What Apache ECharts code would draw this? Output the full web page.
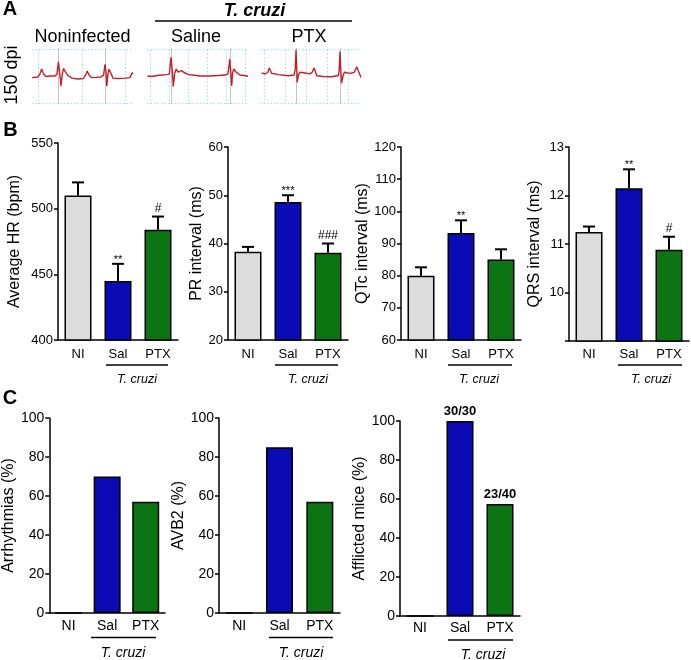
<!DOCTYPE html>
<html><head><meta charset="utf-8">
<script src="https://cdn.jsdelivr.net/npm/echarts@6/dist/echarts.min.js"></script>
<style>html,body{margin:0;padding:0;background:#fff}#c{width:691px;height:660px}</style>
</head><body><div id="c"></div>
<script>
// ---------- DATA ----------
const categories = ['NI', 'Sal', 'PTX'];
const groupColors = ['#dcdcdc', '#0b0bb5', '#0b7513'];

const hrMean = [510, 445, 484];
const hrSem = [10, 13, 10];
const hrSig = ['', '**', '#'];

const prMean = [38.3, 48.6, 38.1];
const prSem = [1.0, 1.4, 1.9];
const prSig = ['', '***', '###'];

const qtcMean = [80, 93.3, 85];
const qtcSem = [2.6, 3.9, 3.2];
const qtcSig = ['', '**', ''];

const qrsMean = [11.25, 12.15, 10.88];
const qrsSem = [0.11, 0.39, 0.27];
const qrsSig = ['', '**', '#'];

const arrhythmiasPct = [0, 70, 57];
const avb2Pct = [0, 85, 57];
const afflictedPct = [0, 100, 57.5];
const afflictedLabels = ['', '30/30', '23/40'];

const hrTicks = [400, 550, 50];
const prTicks = [20, 60, 10];
const qtcTicks = [60, 120, 10];
const qrsTicks = [9, 13, 1];
const pctTicks = [0, 100, 20];

// ECG traces: [time (ms), voltage (mV)]
const ecgNoninfected = [[0,-0.07],[15,-0.04],[20,0.09],[24,0.30],[29,0.09],[35,-0.02],[45,0],[57.5,0],[62.5,0.09],[66,0.61],[69,0.17],[72.5,-0.43],[75.7,0.09],[79,0.32],[82.5,0.21],[90,0.02],[100,-0.09],[115,-0.13],[127.5,-0.11],[134,0.04],[138,0.21],[142.5,0.04],[149,-0.07],[160,-0.06],[172.5,-0.04],[179,0.04],[182.5,0.5],[185,0.17],[187,-0.43],[190,0.09],[192.5,0.29],[196,0.17],[202.5,-0.09],[215,-0.11],[232.5,-0.09],[245,-0.07],[250,0.14],[252.5,0.09]];
const ecgSaline = [[1,0],[12.5,-0.02],[25,0.02],[37.5,0.04],[50,0.06],[56,0.09],[60,0.80],[63,0.26],[65.7,-0.45],[69,0.09],[73,0.30],[77.5,0.17],[82.5,0.19],[86.7,0.23],[92.5,0.15],[102.5,0.07],[112.5,0.04],[132.5,0],[157.5,0],[177.5,0.02],[195,0.04],[202.5,0.09],[207,0.72],[209,0.26],[211.7,-0.42],[214,0.13],[217,0.30],[222.5,0.17],[232.5,0.04],[242.5,0.02],[252.5,-0.01]];
const ecgPTX = [[4,0.13],[12.5,0.09],[19,0.15],[23,0.34],[29,0.12],[45,0.06],[71,0.01],[85,0.04],[88,0.26],[90,1.11],[92,0.26],[93,-0.27],[96,0.04],[100,0.16],[112.5,0.13],[125,0.09],[131,0.17],[135,0.34],[138,0.21],[142,0.01],[157.5,-0.02],[179,-0.03],[196,0.02],[198,0.26],[200,1.06],[202,0.26],[204,-0.31],[207.5,0],[211,0.16],[220,0.13],[229,0.12],[236,0.17],[242,0.40],[246,0.21],[252.5,-0.06]];
// ECG paper grid times (ms) and R-peak cursor times (ms)
const gridTimesNoninfected = [15, 125, 232.5];
const rTimesNoninfected = [66, 182.5];
const gridTimesSaline = [7.5, 55, 102.5, 150, 197.5, 245];
const rTimesSaline = [60, 207];
const gridTimesPTX = [10, 62.5, 115, 167.5, 220];
const rTimesPTX = [90, 200];

// ---------- CHART ----------
const FONT = '"Liberation Sans", Arial, sans-serif';
const BLACK = '#000';
const grids = [], xAxes = [], yAxes = [], series = [], graphic = [];

function ecgPanel(left, trace, gridTimes, rTimes) {
  const gi = grids.length;
  grids.push({left: left, top: 48, width: 101, height: 56});
  xAxes.push({type: 'value', gridIndex: gi, min: 0, max: 252.5, show: false});
  yAxes.push({type: 'value', gridIndex: gi, min: -1.2, max: 1.2, show: false});
  const cyan = {color: '#93e2f0', type: [1.5, 2], width: 1};
  const grey = {color: '#c4c4c4', type: 'solid', width: 1};
  const ml = [];
  [-1.15, 1.15].forEach(v => ml.push({yAxis: v, lineStyle: cyan}));
  gridTimes.forEach(t => ml.push({xAxis: t, lineStyle: cyan}));
  rTimes.forEach(t => ml.push({xAxis: t, lineStyle: grey}));
  series.push({
    type: 'line', xAxisIndex: gi, yAxisIndex: gi, data: trace,
    showSymbol: false, symbol: 'none', silent: true, animation: false, z: 3,
    lineStyle: {color: '#c81e28', width: 1.4},
    markLine: {silent: true, symbol: ['none', 'none'], label: {show: false}, animation: false, z: 1, data: ml}
  });
}

function barPanel(o) {
  const gi = grids.length;
  const fs = o.fontSize || 13;
  grids.push({left: o.left, top: o.top, width: o.width, height: o.height});
  xAxes.push({
    type: 'category', gridIndex: gi, data: categories,
    axisLine: {show: true, onZero: false, lineStyle: {color: BLACK, width: 1.5}},
    axisTick: {show: false},
    axisLabel: {color: BLACK, fontSize: fs, fontFamily: FONT, margin: o.xMargin, interval: 0}
  });
  yAxes.push({
    type: 'value', gridIndex: gi, min: o.ticks[0], max: o.ticks[1], interval: o.ticks[2],
    name: o.name, nameLocation: 'middle', nameGap: o.nameGap, nameRotate: 90,
    nameTextStyle: {color: BLACK, fontSize: 16, fontFamily: FONT},
    axisLine: {show: true, lineStyle: {color: BLACK, width: 1.5}},
    axisTick: {show: true, length: 4, lineStyle: {color: BLACK, width: 1.5}},
    axisLabel: {color: BLACK, fontSize: fs, fontFamily: FONT, margin: 5, formatter: o.fmt || (v => String(v))},
    splitLine: {show: false}
  });
  const bar = {
    type: 'bar', xAxisIndex: gi, yAxisIndex: gi, barWidth: 27, animation: false,
    data: o.values.map((v, i) => ({value: v, itemStyle: {color: groupColors[i]}})),
    itemStyle: {borderColor: BLACK, borderWidth: 1.5}
  };
  if (o.barLabels) {
    bar.label = {show: true, position: 'top', distance: 3, color: BLACK, fontSize: 13, fontWeight: 'bold',
      fontFamily: FONT, formatter: p => o.barLabels[p.dataIndex]};
  }
  series.push(bar);
  if (o.sem) {
    const sig = o.sig;
    series.push({
      type: 'custom', xAxisIndex: gi, yAxisIndex: gi, animation: false, clip: false, z: 5,
      encode: {x: 0, y: [1, 2]},
      data: o.values.map((v, i) => [i, v, v + o.sem[i]]),
      renderItem: (params, api) => {
        const i = api.value(0), m = api.value(1), t = api.value(2);
        const p0 = api.coord([i, m]), p1 = api.coord([i, t]);
        const s = sig[params.dataIndex];
        const ch = [
          {type: 'line', shape: {x1: p0[0], y1: p0[1], x2: p1[0], y2: p1[1]}, style: {stroke: BLACK, lineWidth: 2}},
          {type: 'line', shape: {x1: p1[0] - 6, y1: p1[1], x2: p1[0] + 6, y2: p1[1]}, style: {stroke: BLACK, lineWidth: 2}}
        ];
        if (s) {
          const star = s.indexOf('*') >= 0;
          ch.push({type: 'text', x: p1[0], y: p1[1] - (star ? 4 : 8),
            style: {text: s, align: 'center', verticalAlign: 'middle', fontSize: star ? 11 : 12, fontFamily: FONT, fill: BLACK}});
        }
        return {type: 'group', children: ch};
      }
    });
  }
}

function txt(x, y, text, size, ex) {
  ex = ex || {};
  graphic.push({type: 'text', x: x, y: y, rotation: ex.rot || 0, silent: true,
    style: {text: text, fontSize: size, fontFamily: FONT, fontWeight: ex.weight || 'normal',
      fontStyle: ex.italic ? 'italic' : 'normal', fill: BLACK, align: 'center', verticalAlign: 'middle'}});
}
function hline(x1, x2, y) {
  graphic.push({type: 'line', silent: true, shape: {x1: x1, y1: y, x2: x2, y2: y}, style: {stroke: BLACK, lineWidth: 1.5}});
}

// Panel A
ecgPanel(32, ecgNoninfected, gridTimesNoninfected, rTimesNoninfected);
ecgPanel(147, ecgSaline, gridTimesSaline, rTimesSaline);
ecgPanel(260, ecgPTX, gridTimesPTX, rTimesPTX);

// Panel B
barPanel({left: 58, top: 143, width: 120, height: 197, ticks: hrTicks, name: 'Average HR (bpm)', nameGap: 35,
  values: hrMean, sem: hrSem, sig: hrSig, xMargin: 8});
barPanel({left: 228, top: 147, width: 120, height: 193, ticks: prTicks, name: 'PR interval (ms)', nameGap: 23,
  values: prMean, sem: prSem, sig: prSig, xMargin: 8});
barPanel({left: 401, top: 147, width: 120, height: 193, ticks: qtcTicks, name: 'QTc interval (ms)', nameGap: 30,
  values: qtcMean, sem: qtcSem, sig: qtcSig, xMargin: 8});
barPanel({left: 569, top: 147, width: 120, height: 194, ticks: qrsTicks, name: 'QRS interval (ms)', nameGap: 26,
  values: qrsMean, sem: qrsSem, sig: qrsSig, xMargin: 7, fmt: v => (v === 9 ? '' : String(v))});

// Panel C
barPanel({left: 43, top: 418, width: 122, height: 195, ticks: pctTicks, name: 'Arrhythmias (%)', nameGap: 23,
  values: arrhythmiasPct, xMargin: 6, fontSize: 14});
barPanel({left: 219, top: 418, width: 121, height: 195, ticks: pctTicks, name: 'AVB2 (%)', nameGap: 23,
  values: avb2Pct, xMargin: 6, fontSize: 14});
barPanel({left: 400, top: 421, width: 120, height: 195, ticks: pctTicks, name: 'Afflicted mice (%)', nameGap: 24,
  values: afflictedPct, barLabels: afflictedLabels, xMargin: 5, fontSize: 14});

// Annotations
txt(10, 9.5, 'A', 20, {weight: 'bold'});
txt(10.5, 130.5, 'B', 20, {weight: 'bold'});
txt(10, 398.5, 'C', 20, {weight: 'bold'});
txt(254.5, 11, 'T. cruzi', 18, {weight: 'bold', italic: true});
hline(155, 352, 21);
txt(82.5, 37, 'Noninfected', 18);
txt(196, 37, 'Saline', 18);
txt(309, 37, 'PTX', 18);
txt(12.5, 75, '150 dpi', 18, {rot: Math.PI / 2});

[[106, 168, 137], [275, 338, 308], [448, 512, 479], [618, 682, 651]].forEach(a => {
  hline(a[0], a[1], 365); txt(a[2], 380, 'T. cruzi', 12.5, {italic: true});
});
hline(91, 156, 637.5); txt(123, 653, 'T. cruzi', 14, {italic: true});
hline(269, 333, 637.5); txt(301, 653, 'T. cruzi', 14, {italic: true});
hline(448, 513, 640); txt(483, 655, 'T. cruzi', 14, {italic: true});

const chart = echarts.init(document.getElementById('c'), null, {renderer: 'canvas'});
chart.setOption({
  backgroundColor: '#fff',
  animation: false,
  textStyle: {fontFamily: FONT},
  grid: grids, xAxis: xAxes, yAxis: yAxes, series: series, graphic: graphic
});
</script></body></html>
